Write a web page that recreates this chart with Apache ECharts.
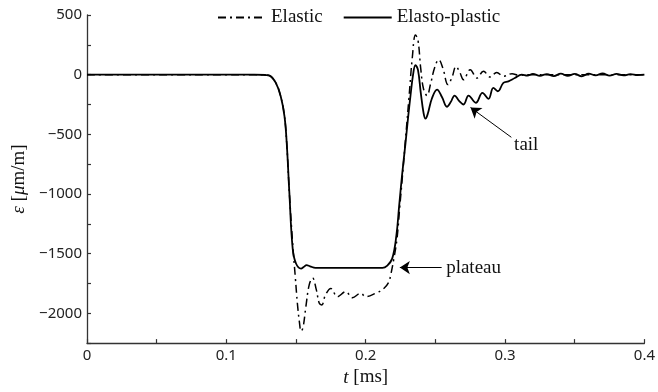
<!DOCTYPE html>
<html>
<head>
<meta charset="utf-8">
<script src="https://cdn.jsdelivr.net/npm/echarts@6/dist/echarts.min.js"></script>
<style>
  html, body { margin: 0; padding: 0; background: #fff; }
  #chart { width: 658px; height: 392px; }
</style>
</head>
<body>
<div id="chart"></div>
<script>
// time [ms] and strain [µm/m]
const elasticT = [0, 0.05, 0.1, 0.12, 0.128, 0.131, 0.1355, 0.139, 0.1417, 0.1433, 0.1452, 0.1476,
  0.1495, 0.151, 0.1525, 0.1536, 0.155, 0.157, 0.1595, 0.1619, 0.1645, 0.1667, 0.1685, 0.171,
  0.175, 0.1797, 0.1857, 0.1905, 0.1964, 0.2, 0.207, 0.213, 0.2165, 0.2179, 0.2202, 0.2224,
  0.2245, 0.226, 0.2285, 0.231, 0.2335, 0.2357, 0.2375, 0.2395, 0.2415, 0.244, 0.2465, 0.2495,
  0.2524, 0.2555, 0.259, 0.262, 0.2648, 0.2675, 0.2702, 0.275, 0.2798, 0.2845, 0.2893, 0.294,
  0.2988, 0.305, 0.31, 0.32, 0.35, 0.4];
const elasticE = [0, 0, 0, 0, -3, -8, -69, -181, -347, -569, -986, -1420,
  -1700, -1920, -2080, -2150, -2120, -1950, -1760, -1705, -1800, -1917, -1930, -1850,
  -1792, -1861, -1819, -1869, -1833, -1861, -1833, -1792, -1740, -1681, -1542, -1380,
  -1100, -900, -550, -200, 150, 333, 290, 50, -120, -175, -80, 60,
  125, 50, -83, -20, 69, 20, -42, 42, -28, 28, -19, 19,
  -14, 8, -5, 0, 0, 0];

const plasticT = [0, 0.05, 0.1, 0.12, 0.128, 0.131, 0.1355, 0.139, 0.1417, 0.1433, 0.1452, 0.1476,
  0.15, 0.1536, 0.1555, 0.1576, 0.16, 0.164, 0.18, 0.2, 0.212, 0.2155, 0.219, 0.222,
  0.224, 0.2262, 0.2286, 0.2305, 0.2321, 0.234, 0.2357, 0.2375, 0.2395, 0.2415, 0.2429, 0.2445,
  0.2475, 0.2512, 0.2548, 0.2583, 0.261, 0.2638, 0.267, 0.2702, 0.2738, 0.279, 0.2838, 0.2881,
  0.2916, 0.2948, 0.2988, 0.3024, 0.307, 0.312, 0.316, 0.32, 0.325, 0.33, 0.335, 0.34,
  0.345, 0.35, 0.355, 0.36, 0.365, 0.37, 0.375, 0.38, 0.385, 0.39, 0.395, 0.4];
const plasticE = [0, 0, 0, 0, -3, -8, -69, -181, -347, -569, -986, -1458,
  -1583, -1625, -1612, -1597, -1606, -1620, -1620, -1620, -1620, -1600, -1542, -1350,
  -1100, -830, -569, -350, -181, 0, 80, 40, -150, -320, -369, -330,
  -200, -125, -190, -269, -230, -175, -220, -250, -175, -236, -153, -203,
  -111, -139, -69, -56, -28, 0, -8, 6, -10, 5, -12, 8,
  -10, 6, -14, 8, -6, 10, -8, 6, -6, 4, -4, 0];

const seriesNames = ['Elastic', 'Elasto-plastic'];
const yTicks = [-2250, 500, 250];   // min, max, interval
const xTicks = [0, 0.4, 0.05];

// annotation arrows: [from, to] in data coordinates, and their labels
const arrowLines = [
  [[0.3045, -525], [0.2752, -275]],
  [[0.2545, -1617], [0.2245, -1617]]
];
const arrowLabels = [
  ['tail', 0.3152, -592],
  ['plateau', 0.2774, -1617]
];

const zip = (xs, ys) => xs.map((x, i) => [x, ys[i]]);
const serif = 'Liberation Serif';
const sans = 'Noto Sans';

const chart = echarts.init(document.getElementById('chart'));
chart.setOption({
  animation: false,
  backgroundColor: '#fff',
  grid: { left: 87, right: 11, top: 15, bottom: 46 },
  legend: {
    top: 3,
    left: 212,
    itemWidth: 48,
    itemHeight: 14,
    itemGap: 20,
    itemStyle: { opacity: 0 },
    textStyle: { fontFamily: serif, fontSize: 19, color: '#111' },
    data: seriesNames
  },
  xAxis: {
    type: 'value',
    min: xTicks[0], max: xTicks[1], interval: xTicks[2],
    name: '{i|t} [ms]',
    nameLocation: 'middle',
    nameGap: 22,
    nameTextStyle: {
      fontFamily: serif, fontSize: 19, color: '#111',
      rich: { i: { fontFamily: serif, fontSize: 19, fontStyle: 'italic', color: '#111' } }
    },
    axisLine: { onZero: false, lineStyle: { color: '#333', width: 1.3 } },
    axisTick: { inside: true, length: 4, lineStyle: { color: '#333', width: 1.2 } },
    axisLabel: {
      fontFamily: sans, fontSize: 15, color: '#222', margin: 5,
      formatter: v => Math.abs(v * 10 - Math.round(v * 10)) < 1e-6 ? String(Math.round(v * 10) / 10) : ''
    },
    splitLine: { show: false }
  },
  yAxis: {
    type: 'value',
    min: yTicks[0], max: yTicks[1], interval: yTicks[2],
    name: '{i|ε} [{i|μ}m/m]',
    nameLocation: 'middle',
    nameGap: 55,
    nameRotate: 90,
    nameTextStyle: {
      fontFamily: serif, fontSize: 19, color: '#111',
      rich: { i: { fontFamily: serif, fontSize: 19, fontStyle: 'italic', color: '#111' } }
    },
    axisLine: { show: true, onZero: false, lineStyle: { color: '#333', width: 1.3 } },
    axisTick: { show: true, inside: true, length: 4, lineStyle: { color: '#333', width: 1.2 } },
    axisLabel: {
      fontFamily: sans, fontSize: 15, color: '#222', margin: 5,
      formatter: v => v % 500 === 0 ? String(v).replace('-', '\u2212') : ''
    },
    splitLine: { show: false }
  },
  series: [
    {
      name: seriesNames[0],
      type: 'line',
      data: zip(elasticT, elasticE),
      showSymbol: false,
      symbol: 'none',
      smooth: 0.4,
      lineStyle: { color: '#000', width: 1.5, type: [8, 4, 2, 4] },
      itemStyle: { color: '#000' }
    },
    {
      name: seriesNames[1],
      type: 'line',
      data: zip(plasticT, plasticE),
      showSymbol: false,
      symbol: 'none',
      smooth: 0.4,
      lineStyle: { color: '#000', width: 1.8 },
      itemStyle: { color: '#000' },
      markLine: {
        silent: true,
        symbol: ['none', 'arrow'],
        symbolSize: 10,
        lineStyle: { color: '#000', width: 1, type: 'solid' },
        label: { show: false },
        data: arrowLines.map(([a, b]) => [{ coord: a }, { coord: b }])
      },
      markPoint: {
        silent: true,
        symbolSize: 0,
        label: {
          show: true, position: 'inside', formatter: '{b}',
          fontFamily: serif, fontSize: 19, color: '#111'
        },
        data: arrowLabels.map(([n, x, y]) => ({ name: n, coord: [x, y] }))
      }
    }
  ]
});
</script>
</body>
</html>
